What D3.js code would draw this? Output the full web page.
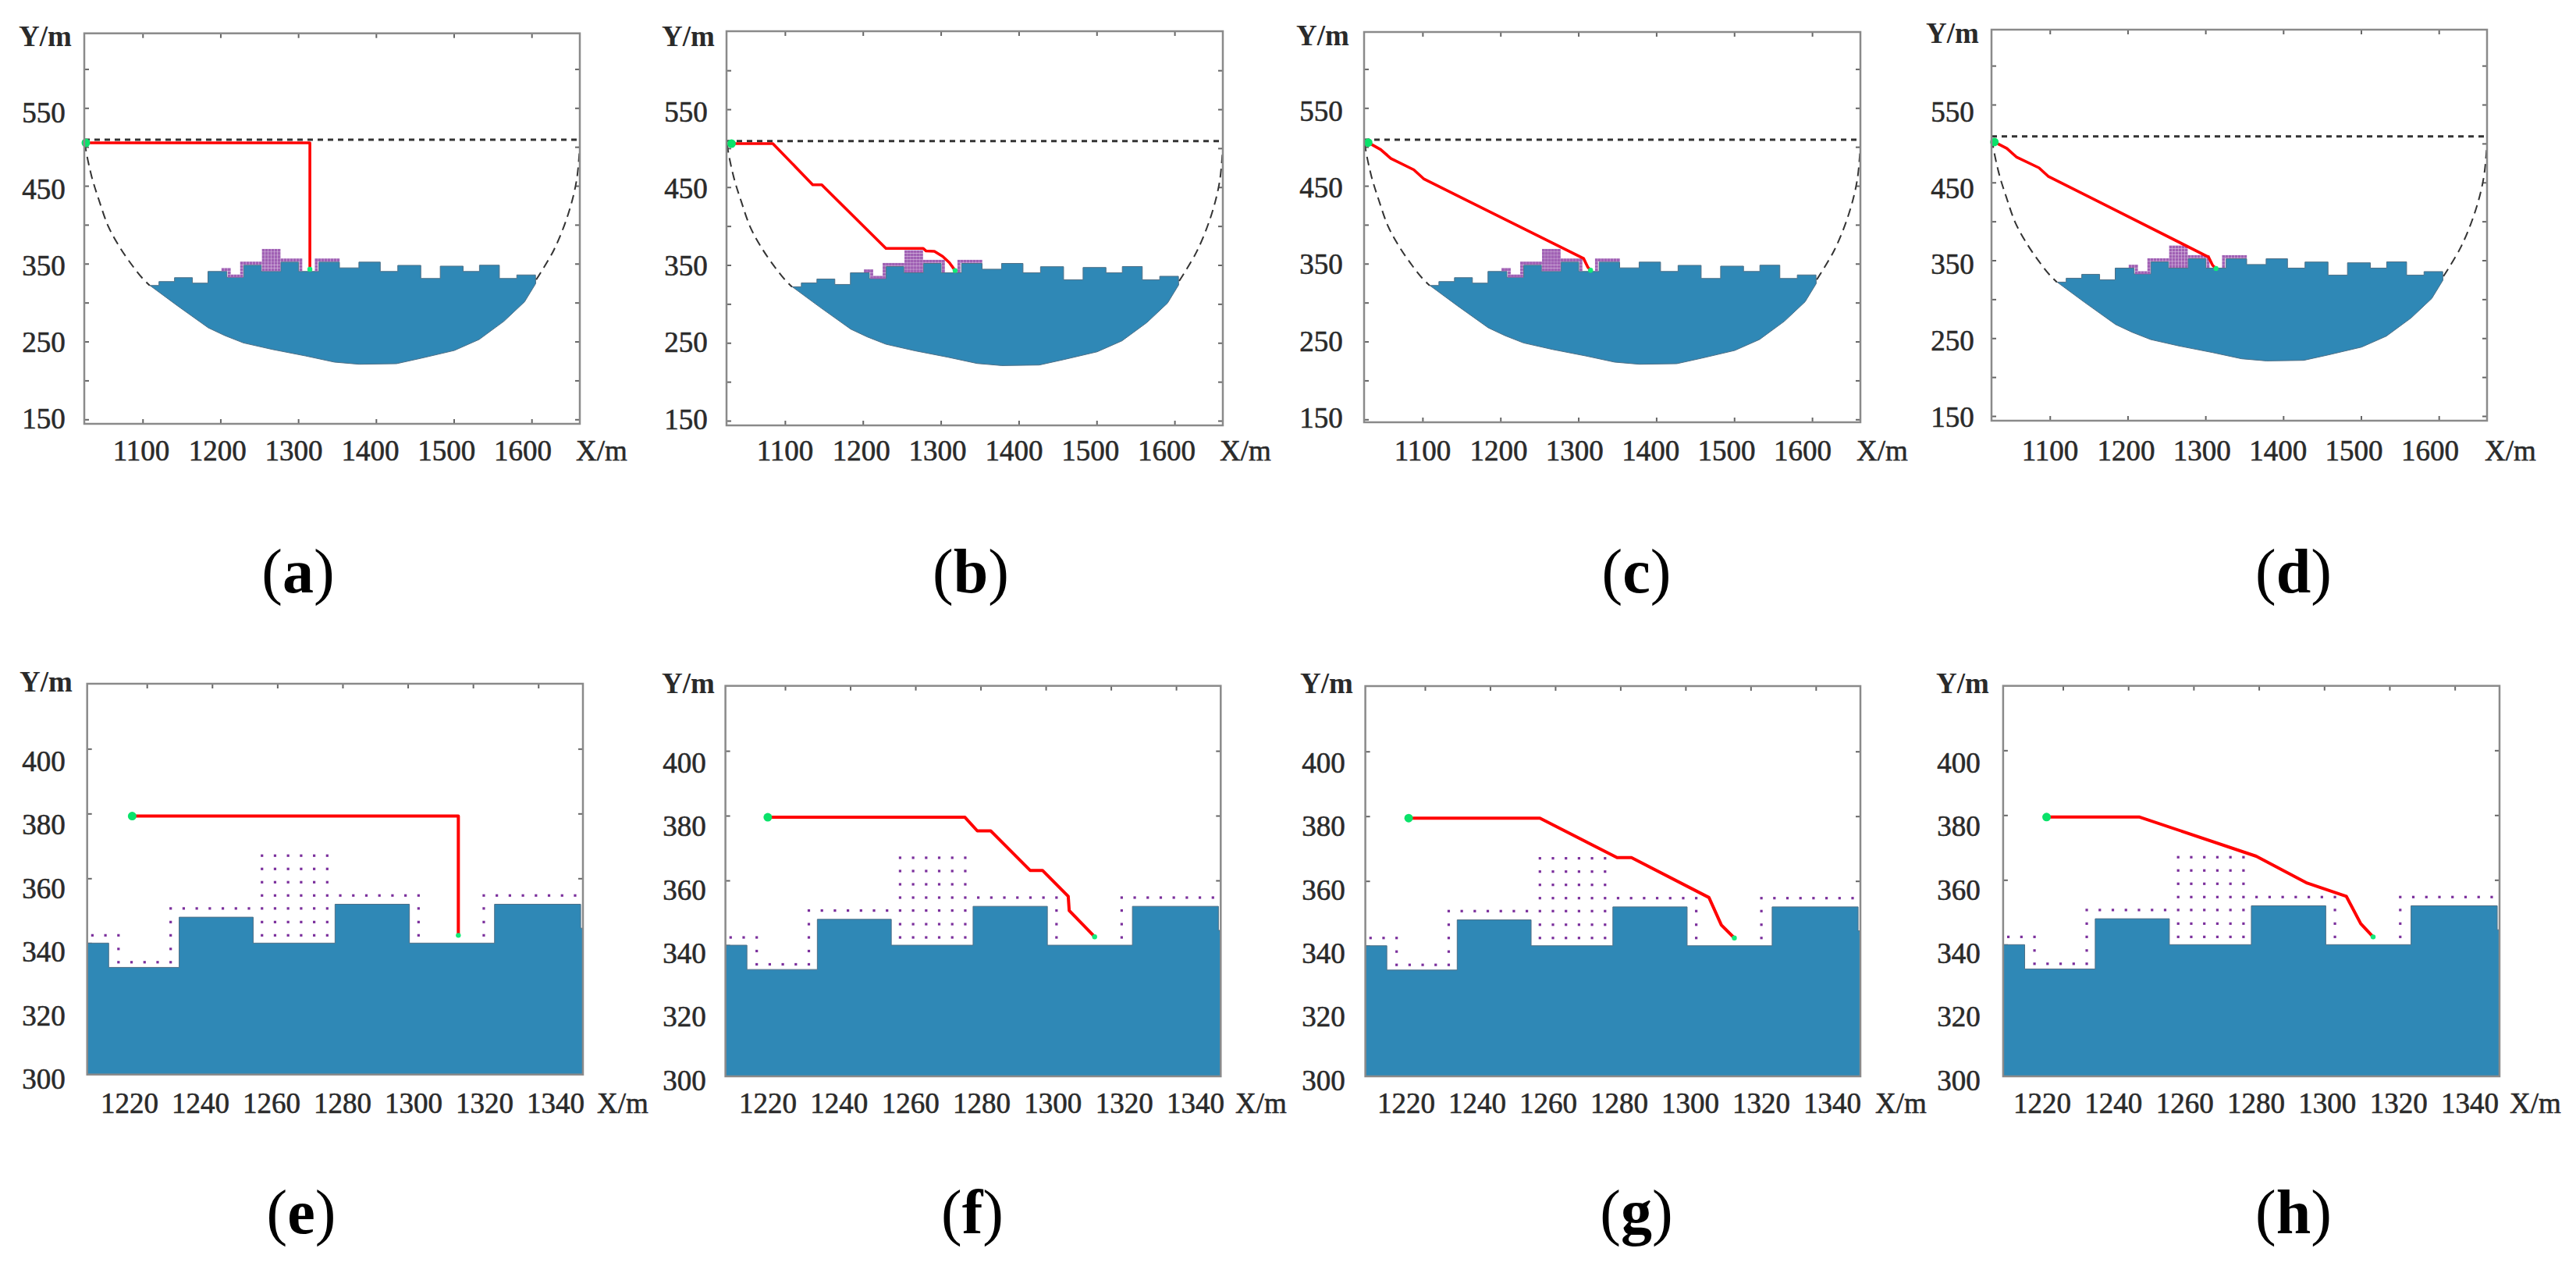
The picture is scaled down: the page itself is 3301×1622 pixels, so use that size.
<!DOCTYPE html>
<html>
<head>
<meta charset="utf-8">
<script src="https://cdn.jsdelivr.net/npm/d3@7"></script>
<style>
  body { margin: 0; background: #fff; }
  text { font-family: "Liberation Serif", serif; fill: #2a2a2a; }
  .lab { stroke: #2a2a2a; stroke-width: 0.6px; }
</style>
</head>
<body>
<svg id="fig" width="3301" height="1622"></svg>
<script>
// terrain: top steps (x where a level starts, level), then the lower outline
const stepX = [1109, 1121, 1141, 1164, 1184, 1208.3, 1229.9, 1252.6, 1277.7, 1300.5, 1326.6, 1353, 1378, 1405.5, 1428, 1457.6, 1482.6, 1512, 1533, 1558.6, 1581, 1605]
const stepLevel = [322, 327, 332, 325, 340, 332.5, 348, 340, 352, 340, 352, 344.6, 352, 340, 347.8, 331, 346.8, 340, 348, 331, 335.5, 335.5]
const lowerX = [1605.3, 1591, 1564.5, 1532.6, 1500.7, 1458, 1426.3, 1378.4, 1346.6, 1309.3, 1266.8, 1229.6, 1205.7, 1184.4, 1144.6, 1108.4]
const lowerY = [324.4, 301, 276, 252.6, 238.5, 228.5, 221.5, 220.8, 223.5, 231.5, 239.8, 248.2, 257.6, 267.6, 296, 322.7]

// dashed bounds
const limitY = 509.2
const boundLeftX = [1026, 1027, 1034.6, 1044, 1055.8, 1070.7, 1086.6, 1100, 1109]
const boundLeftY = [505, 496.5, 461.4, 431.3, 398, 371, 347.8, 331, 322]
const boundRightX = [1606, 1628.8, 1647.4, 1658, 1662]
const boundRightY = [329.5, 367.9, 414.7, 458, 501.5]

// purple obstacle grid: row y, then first and last x of each run
const hatchRows = [334.1, 338.2, 342.4, 346.5, 350.7, 354.7, 358.8, 362.9, 367]
const hatchRuns = [
  [[1211.3, 1227.3]],
  [[1211.3, 1211.3], [1227.3, 1227.3]],
  [[1203.3, 1211.3], [1227.3, 1227.3], [1255.3, 1275.3], [1303.3, 1303.3], [1323.3, 1323.3]],
  [[1227.3, 1227.3], [1255.3, 1275.3], [1303.3, 1303.3], [1323.3, 1323.3]],
  [[1227.3, 1275.3], [1303.3, 1303.3], [1323.3, 1323.3]],
  [[1255.3, 1303.3], [1323.3, 1351.3]],
  [[1255.3, 1275.3]],
  [[1255.3, 1275.3]],
  [[1255.3, 1275.3]]
]

// paths, panels a-d on the whole field, e-h on the close-up
const pathAX = [1027, 1315, 1315]
const pathAY = [505.2, 505.2, 342.8]
const pathBX = [1031.4, 1084.5, 1135.6, 1147.2, 1229.6, 1277.5, 1281.2, 1291.8, 1302.4, 1311, 1318.4]
const pathBY = [505.9, 505.9, 453, 453, 371.3, 371.3, 368, 367.5, 361, 353, 342.9]
const pathCX = [1030.3, 1046.3, 1059.5, 1088.8, 1102, 1306.7, 1312, 1315.7]
const pathCY = [505.5, 496.5, 485, 470.6, 458.6, 356.7, 345.7, 341.6]
const pathDX = [1028.7, 1044.7, 1056.9, 1086, 1097.8, 1304, 1309.3, 1313.6]
const pathDY = [502, 493.8, 482.8, 468.8, 458, 354.2, 343.5, 339.5]
const pathEX = [1215.5, 1315.5, 1315.5]
const pathEY = [379.2, 379.2, 342.4]
const pathFX = [1214.7, 1275.2, 1279, 1283.1, 1295.2, 1299, 1306.9, 1307.2, 1315]
const pathFY = [379.5, 379.5, 375.3, 375.3, 363.1, 363.1, 355.1, 350.7, 342.6]
const pathGX = [1215, 1255.3, 1279, 1283.4, 1307.2, 1311, 1315]
const pathGY = [379.4, 379.4, 367.2, 367.2, 354.9, 346.4, 342.4]
const pathHX = [1215, 1243.5, 1279.2, 1294.8, 1306.8, 1311.2, 1315]
const pathHY = [379.4, 379.4, 367.3, 359, 354.9, 346.5, 342.4]

const wideXTicks = [1100, 1200, 1300, 1400, 1500, 1600]
const wideYTicks = [150, 200, 250, 300, 350, 400, 450, 500, 550, 600]
const wideYLabels = [150, 250, 350, 450, 550]
const closeXTicks = [1220, 1240, 1260, 1280, 1300, 1320, 1340]
const closeYTicks = [300, 320, 340, 360, 380, 400]
const closeYLabels = [300, 320, 340, 360, 380, 400]

const wide = { xd: [1025, 1662], yAnchor: [550, 150], ySpan: 399, xt: wideXTicks, yt: wideYTicks, yl: wideYLabels, size: 3.8, dot: "#a060b4", red: 3.6 }
const close = { xd: [1201.7, 1353.7], yAnchor: [400, 300], ySpan: 415, xt: closeXTicks, yt: closeYTicks, yl: closeYLabels, size: 3.2, dot: "#7b2f9c", red: 4 }

// frame box, y of first anchor tick, label placement
const panels = [
  { name: "a", kind: wide, px: pathAX, py: pathAY, l: 108, r: 743, t: 42.7, b: 543, y0: 138.3, xl: [181, 670], xm: 771, xlY: 577, yl0: [144, 536], ylX: 56, ymX: 58, ymY: 46, capX: 382, capY: 735 },
  { name: "b", kind: wide, px: pathBX, py: pathBY, l: 931, r: 1567, t: 40, b: 545, y0: 140, xl: [1006, 1495], xm: 1596, xlY: 577, yl0: [143, 537], ylX: 879, ymX: 882, ymY: 46, capX: 1244, capY: 735 },
  { name: "c", kind: wide, px: pathCX, py: pathCY, l: 1748, r: 2384, t: 41, b: 541, y0: 138.3, xl: [1823, 2310], xm: 2412, xlY: 577, yl0: [142, 535], ylX: 1693, ymX: 1695, ymY: 45, capX: 2097, capY: 735 },
  { name: "d", kind: wide, px: pathDX, py: pathDY, l: 2552, r: 3187, t: 38, b: 539, y0: 134, xl: [2627, 3114], xm: 3217, xlY: 577, yl0: [143, 534], ylX: 2502, ymX: 2502, ymY: 42, capX: 2939, capY: 735 },
  { name: "e", kind: close, px: pathEX, py: pathEY, l: 111.7, r: 747, t: 876, b: 1376.7, y0: 959.3, xl: [166, 712], xm: 798, xlY: 1413, yl0: [975, 1382], ylX: 56, ymX: 59, ymY: 873, capX: 386, capY: 1556 },
  { name: "f", kind: close, px: pathFX, py: pathFY, l: 929.6, r: 1564.3, t: 878.7, b: 1379, y0: 962, xl: [984, 1532], xm: 1616, xlY: 1413, yl0: [976.7, 1384], ylX: 877, ymX: 882, ymY: 875, capX: 1246, capY: 1556 },
  { name: "g", kind: close, px: pathGX, py: pathGY, l: 1749.6, r: 2384, t: 879, b: 1379, y0: 962.7, xl: [1802, 2348], xm: 2436, xlY: 1413, yl0: [976.7, 1384], ylX: 1696, ymX: 1700, ymY: 875, capX: 2097, capY: 1556 },
  { name: "h", kind: close, px: pathHX, py: pathHY, l: 2566.9, r: 3203, t: 878.7, b: 1379, y0: 961.3, xl: [2617, 3165], xm: 3249, xlY: 1413, yl0: [976.7, 1384], ylX: 2510, ymX: 2515, ymY: 875, capX: 2939, capY: 1556 }
]

const zip = (xs, ys) => xs.map((x, i) => [x, ys[i]])
const svg = d3.select("#fig")
const defs = svg.append("defs")

const drawPanel = (p, idx) => {
  const k = p.kind
  const x = d3.scaleLinear().domain(k.xd).range([p.l, p.r])
  const y = d3.scaleLinear().domain(k.yAnchor).range([p.y0, p.y0 + k.ySpan])
  const g = svg.append("g").attr("class", "panel-" + p.name)

  defs.append("clipPath").attr("id", "clip" + idx).append("rect")
    .attr("x", p.l).attr("y", p.t).attr("width", p.r - p.l).attr("height", p.b - p.t)

  // frame and ticks
  const tick = sel => sel.call(s => s.select(".domain").remove())
    .call(s => s.selectAll("line").attr("stroke", "#666").attr("stroke-width", 2))
  g.append("g").attr("transform", `translate(0,${p.b})`)
    .call(d3.axisBottom(x).tickValues(k.xt).tickFormat("").tickSizeInner(-6).tickSizeOuter(0)).call(tick)
  g.append("g").attr("transform", `translate(0,${p.t})`)
    .call(d3.axisTop(x).tickValues(k.xt).tickFormat("").tickSizeInner(-6).tickSizeOuter(0)).call(tick)
  g.append("g").attr("transform", `translate(${p.l},0)`)
    .call(d3.axisLeft(y).tickValues(k.yt).tickFormat("").tickSizeInner(-6).tickSizeOuter(0)).call(tick)
  g.append("g").attr("transform", `translate(${p.r},0)`)
    .call(d3.axisRight(y).tickValues(k.yt).tickFormat("").tickSizeInner(-6).tickSizeOuter(0)).call(tick)

  const plot = g.append("g").attr("clip-path", `url(#clip${idx})`)
  const line = d3.line().x(d => x(d[0])).y(d => y(d[1]))

  // terrain
  const upper = line.curve(d3.curveStepAfter)(zip(stepX, stepLevel))
  const lower = line.curve(d3.curveLinear)(zip(lowerX, lowerY))
  plot.append("path")
    .attr("d", upper + "L" + lower.slice(1) + "Z")
    .attr("fill", "#2f88b6")
    .attr("stroke", "#4d6f86")
    .attr("stroke-width", 1)

  // dashed bounds
  line.curve(d3.curveCatmullRom)
  plot.append("path").attr("d", line(zip(boundLeftX, boundLeftY)))
    .attr("fill", "none").attr("stroke", "#333").attr("stroke-width", 2).attr("stroke-dasharray", "11 7")
  plot.append("path").attr("d", line(zip(boundRightX, boundRightY)))
    .attr("fill", "none").attr("stroke", "#333").attr("stroke-width", 2).attr("stroke-dasharray", "11 7")
  plot.append("line")
    .attr("x1", x(k.xd[0])).attr("x2", x(k.xd[1]))
    .attr("y1", y(limitY)).attr("y2", y(limitY))
    .attr("stroke", "#333").attr("stroke-width", 3).attr("stroke-dasharray", "7 6")

  // obstacle grid
  const dots = hatchRows.flatMap((ry, i) => hatchRuns[i].flatMap(run =>
    d3.range(run[0], run[1] + 0.1, 4).map(rx => [rx, ry])))
  plot.append("g").selectAll("rect").data(dots).enter().append("rect")
    .attr("x", d => x(d[0]) - k.size / 2)
    .attr("y", d => y(d[1]) - k.size / 2)
    .attr("width", k.size).attr("height", k.size)
    .attr("fill", k.dot)

  // planned path
  plot.append("path").attr("d", d3.line().x(d => x(d[0])).y(d => y(d[1]))(zip(p.px, p.py)))
    .attr("fill", "none").attr("stroke", "#ff0000").attr("stroke-width", k.red)
    .attr("stroke-linejoin", "round")
  const last = p.px.length - 1
  g.append("circle").attr("cx", x(p.px[0])).attr("cy", y(p.py[0])).attr("r", 5.5).attr("fill", "#0ae26a")
  g.append("circle").attr("cx", x(p.px[last])).attr("cy", y(p.py[last])).attr("r", 3.2).attr("fill", "#12ea78")

  g.append("rect").attr("x", p.l).attr("y", p.t).attr("width", p.r - p.l).attr("height", p.b - p.t)
    .attr("fill", "none").attr("stroke", "#8a8a8a").attr("stroke-width", 2.5)

  // tick labels sit a little off their ticks in the original
  const xLab = d3.scaleLinear().domain([k.xt[0], k.xt[k.xt.length - 1]]).range(p.xl)
  const yLab = d3.scaleLinear().domain(k.yAnchor).range(p.yl0)
  g.selectAll("text.xl").data(k.xt).enter().append("text")
    .attr("class", "lab")
    .attr("x", d => xLab(d)).attr("y", p.xlY).attr("dy", "0.35em")
    .attr("text-anchor", "middle").attr("font-size", 37).text(d => d)
  g.selectAll("text.yl").data(k.yl).enter().append("text")
    .attr("class", "lab")
    .attr("x", p.ylX).attr("y", d => yLab(d)).attr("dy", "0.35em")
    .attr("text-anchor", "middle").attr("font-size", 37).text(d => d)
  g.append("text").attr("class", "lab").attr("x", p.xm).attr("y", p.xlY).attr("dy", "0.35em")
    .attr("text-anchor", "middle").attr("font-size", 37).text("X/m")
  g.append("text").attr("x", p.ymX).attr("y", p.ymY).attr("dy", "0.35em")
    .attr("text-anchor", "middle").attr("font-size", 37).attr("font-weight", "bold").text("Y/m")

  const cap = svg.append("text").attr("x", p.capX).attr("y", p.capY).attr("dy", "0.3em")
    .attr("text-anchor", "middle").attr("font-size", 80)
    .style("fill", "#000")
  cap.append("tspan").text("(")
  cap.append("tspan").attr("font-weight", "bold").text(p.name)
  cap.append("tspan").text(")")
}

panels.forEach(drawPanel)
</script>
</body>
</html>
